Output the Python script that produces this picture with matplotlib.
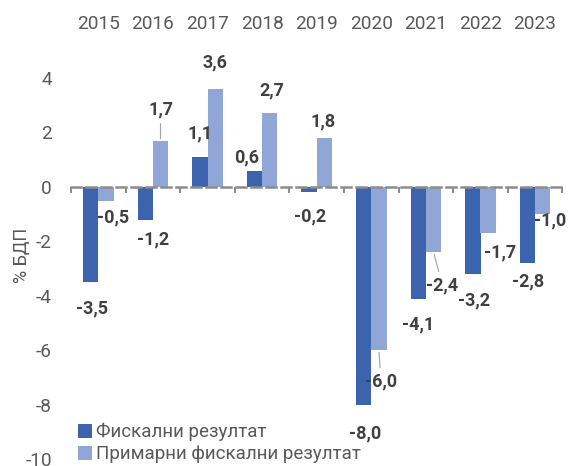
import matplotlib
matplotlib.use('Agg')
import matplotlib.pyplot as plt
from matplotlib.patches import Patch
import numpy as np

years = ['2015', '2016', '2017', '2018', '2019', '2020', '2021', '2022', '2023']
fiscal = [-3.5, -1.2, 1.1, 0.6, -0.2, -8.0, -4.1, -3.2, -2.8]
primary = [-0.5, 1.7, 3.6, 2.7, 1.8, -6.0, -2.4, -1.7, -1.0]
yticks = [-10, -8, -6, -4, -2, 0, 2, 4]

# label offsets (points) from bar end, moved by hand like the Excel original
fiscal_off = [(1, -26), (8, -20), (0, 24), (-8, 13), (1, -24), (1, -28), (0, -26), (1, -26), (1, -18)]
primary_off = [(7, -17), (0, 31), (0, 26), (2, 23), (-1, 16), (2, -31), (9, -33), (12, -19), (7, -6)]
primary_leader = [False, True, False, False, False, True, True, False, False]

DARK = '#3C64AE'
LIGHT = '#8FA6D6'
GREY = '#595959'
LBL = '#404040'

plt.rcParams['font.family'] = ['Roboto', 'DejaVu Sans']

fig = plt.figure(figsize=(568 / 72, 466 / 72), dpi=72)
ax = fig.add_axes([71 / 568, 6.5 / 466, 491.4 / 568, 422.4 / 466])

x = np.arange(len(years))
w = 0.28
ax.bar(x - w / 2, fiscal, w, color=DARK, zorder=2)
ax.bar(x + w / 2, primary, w, color=LIGHT, zorder=2)


def fmt(v):
    return f'{v:.1f}'.replace('.', ',')


for i, v in enumerate(fiscal):
    ax.annotate(fmt(v), xy=(x[i] - w / 2, v), xytext=fiscal_off[i], textcoords='offset points',
                ha='center', va='center', fontsize=18, fontweight='bold', color=LBL)
for i, v in enumerate(primary):
    arrow = dict(arrowstyle='-', color='#A6A6A6', lw=1.2, shrinkA=3, shrinkB=2) if primary_leader[i] else None
    ax.annotate(fmt(v), xy=(x[i] + w / 2, v), xytext=primary_off[i], textcoords='offset points',
                ha='center', va='center', fontsize=18, fontweight='bold', color=LBL, arrowprops=arrow)

ax.set_xlim(-0.5, len(years) - 0.5)
ax.set_ylim(-10, 5.5)
ax.set_yticks(yticks)
ax.set_yticklabels([str(t) for t in yticks])
ax.tick_params(axis='y', length=0, pad=19, labelsize=19, labelcolor=GREY)

ax.set_xticks(x)
ax.set_xticklabels(years)
ax.tick_params(axis='x', which='major', length=0, top=False, bottom=False,
               labeltop=True, labelbottom=False, pad=4, labelsize=19, labelcolor=GREY)
ax.set_xticks(np.arange(len(years) + 1) - 0.5, minor=True)
ax.tick_params(axis='x', which='minor', bottom=True, top=False, direction='out',
               length=6, width=2, color='#8C8C8C')

for s in ['top', 'right', 'left']:
    ax.spines[s].set_visible(False)
ax.spines['bottom'].set_position(('data', 0))
ax.spines['bottom'].set_color('#8C8C8C')
ax.spines['bottom'].set_linewidth(2.5)
ax.spines['bottom'].set_linestyle((0, (4, 2)))
ax.spines['bottom'].set_zorder(3)

ax.set_ylabel('% БДП', fontsize=18, color=GREY)
ax.yaxis.set_label_coords(-0.082, 0.484)

handles = [Patch(color=DARK), Patch(color=LIGHT)]
fig.legend(handles, ['Фискални резултат', 'Примарни фискални резултат'],
           loc='upper left', bbox_to_anchor=(78 / 568, 1 - 423 / 466), frameon=False,
           fontsize=18.7, labelcolor=GREY, handlelength=0.7, handleheight=0.7,
           handletextpad=0.28, labelspacing=0.2, borderpad=0, borderaxespad=0)

fig.savefig('out.png', dpi=72)
